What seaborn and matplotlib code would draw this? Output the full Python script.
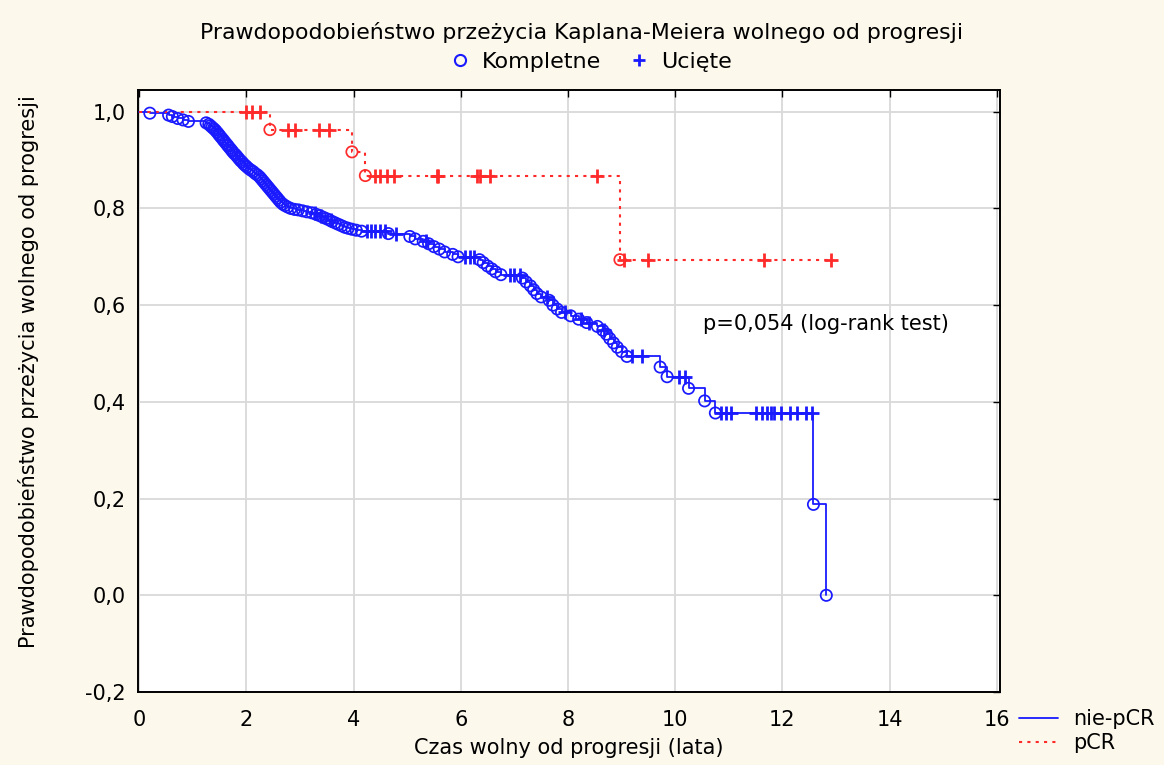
import numpy as np
import pandas as pd
import matplotlib
matplotlib.use("Agg")
import matplotlib.pyplot as plt
from matplotlib.lines import Line2D
import seaborn as sns

# --- nie-pCR group: (event time in years, survival after the event) ---
nonpcr_events = [
    (0.20, 0.997), (0.55, 0.993), (0.62, 0.990), (0.72, 0.986), (0.82, 0.983),
    (0.92, 0.980), (1.25, 0.977), (1.30, 0.974), (1.33, 0.971), (1.36, 0.968),
    (1.39, 0.965), (1.42, 0.962), (1.45, 0.958), (1.48, 0.954), (1.50, 0.951),
    (1.53, 0.947), (1.56, 0.943), (1.58, 0.940), (1.61, 0.936), (1.64, 0.932),
    (1.66, 0.929), (1.69, 0.925), (1.72, 0.921), (1.74, 0.918), (1.77, 0.914),
    (1.80, 0.911), (1.83, 0.907), (1.86, 0.903), (1.89, 0.899), (1.92, 0.896),
    (1.95, 0.892), (1.98, 0.889), (2.01, 0.886), (2.05, 0.882), (2.09, 0.879),
    (2.13, 0.876), (2.17, 0.872), (2.21, 0.869), (2.25, 0.865), (2.28, 0.861),
    (2.31, 0.857), (2.34, 0.853), (2.37, 0.849), (2.40, 0.845), (2.43, 0.841),
    (2.46, 0.837), (2.49, 0.833), (2.52, 0.829), (2.55, 0.825), (2.58, 0.821),
    (2.61, 0.817), (2.64, 0.813), (2.68, 0.809), (2.72, 0.806), (2.77, 0.803),
    (2.83, 0.800), (2.90, 0.798), (2.97, 0.797), (3.05, 0.795), (3.13, 0.793),
    (3.22, 0.791), (3.30, 0.788), (3.37, 0.785), (3.43, 0.782), (3.49, 0.779),
    (3.55, 0.776), (3.60, 0.773), (3.66, 0.770), (3.72, 0.767), (3.78, 0.764),
    (3.84, 0.761), (3.90, 0.759), (3.97, 0.757), (4.05, 0.755), (4.15, 0.753),
    (4.65, 0.748), (5.05, 0.742), (5.15, 0.737), (5.30, 0.732), (5.40, 0.727),
    (5.50, 0.721), (5.60, 0.716), (5.70, 0.710), (5.85, 0.705), (5.95, 0.700),
    (6.35, 0.694), (6.42, 0.688), (6.50, 0.681), (6.58, 0.675), (6.65, 0.669),
    (6.75, 0.663), (7.15, 0.656), (7.22, 0.648), (7.30, 0.640), (7.36, 0.632),
    (7.42, 0.624), (7.50, 0.617), (7.65, 0.610), (7.72, 0.600), (7.80, 0.592),
    (7.88, 0.585), (8.05, 0.578), (8.20, 0.571), (8.35, 0.564), (8.55, 0.556),
    (8.65, 0.548), (8.72, 0.540), (8.78, 0.531), (8.85, 0.522), (8.92, 0.513),
    (9.00, 0.504), (9.10, 0.494), (9.72, 0.472), (9.85, 0.452), (10.25, 0.428),
    (10.55, 0.402), (10.75, 0.377), (12.58, 0.188), (12.82, 0.000),
]
nonpcr_censor_t = [3.28, 3.40, 3.58, 4.25, 4.32, 4.40, 4.50, 4.58, 4.80, 5.35,
                   6.08, 6.17, 6.25, 6.92, 7.00, 7.10, 7.60, 7.95, 8.25, 8.40,
                   8.68, 9.20, 9.38, 10.08, 10.18, 10.85, 10.95, 11.05, 11.50,
                   11.62, 11.72, 11.78, 11.85, 11.98, 12.15, 12.28, 12.45, 12.55]

# --- pCR group ---
pcr_events = [(2.44, 0.963), (3.97, 0.917), (4.22, 0.868), (8.97, 0.694)]
pcr_censor_t = [2.00, 2.10, 2.25, 2.78, 2.90, 3.35, 3.55, 4.40, 4.50, 4.62,
                4.75, 5.55, 5.58, 6.30, 6.35, 6.55, 8.55, 9.05, 9.50, 11.65, 12.90]

p_value_text = "p=0,054 (log-rank test)"
x_ticks = [0, 2, 4, 6, 8, 10, 12, 14, 16]
y_ticks = [-0.2, 0.0, 0.2, 0.4, 0.6, 0.8, 1.0]
y_tick_labels = ["-0,2", "0,0", "0,2", "0,4", "0,6", "0,8", "1,0"]

BLUE = "#1a1aff"
RED = "#ff2a2a"
BG = "#fcf8ec"
FS = 15


def step_frame(events, censor_t):
    """Vertices of a post-step survival curve starting at S(0)=1."""
    et, es = zip(*events)
    t = [0.0] + list(et)
    s = [1.0] + list(es)
    end = max(max(et), max(censor_t))
    t.append(end)
    s.append(s[-1])
    return pd.DataFrame({"t": t, "s": s})


def level_at(events, times):
    et, es = zip(*events)
    idx = np.searchsorted(np.asarray(et), np.asarray(times), side="right")
    levels = np.concatenate([[1.0], np.asarray(es)])
    return levels[idx]


sns.set_theme(style="white")
plt.rcParams["font.family"] = ["DejaVu Sans"]
plt.rcParams["text.color"] = "black"
plt.rcParams["axes.labelcolor"] = "black"

fig = plt.figure(figsize=(11.64, 7.65), dpi=100, facecolor=BG)
ax = fig.add_axes([0.1186, 0.0954, 0.7405, 0.787])
ax.set_facecolor("white")

DOTTED = (0, (1.5, 2.5))
sns.lineplot(data=step_frame(nonpcr_events, nonpcr_censor_t), x="t", y="s",
             estimator=None, sort=False, drawstyle="steps-post",
             color=BLUE, linewidth=1.3, ax=ax, zorder=3)
sns.lineplot(data=step_frame(pcr_events, pcr_censor_t), x="t", y="s",
             estimator=None, sort=False, drawstyle="steps-post",
             color=RED, linewidth=1.5, linestyle=DOTTED, ax=ax, zorder=3)

# complete observations (events) as open circles,
# censored observations as crosses on the curve
for events, censor_t, col in [(nonpcr_events, nonpcr_censor_t, BLUE),
                              (pcr_events, pcr_censor_t, RED)]:
    et, es = zip(*events)
    sns.scatterplot(x=list(et), y=list(es), marker="o", s=66, color=col,
                    facecolor="none", edgecolor=col, linewidth=1.25,
                    ax=ax, zorder=4)
    sns.scatterplot(x=censor_t, y=level_at(events, censor_t), marker="+",
                    s=95, color=col, linewidth=2.0, ax=ax, zorder=4)

ax.set_xlim(-0.02, 16.06)
ax.set_ylim(-0.2, 1.045)
ax.set_xticks(x_ticks)
ax.set_xticklabels([str(v) for v in x_ticks])
ax.set_yticks(y_ticks)
ax.set_yticklabels(y_tick_labels)
ax.grid(True, color="#d9d9d9", linewidth=1.3)
ax.set_axisbelow(True)
for sp in ax.spines.values():
    sp.set_visible(True)
    sp.set_color("black")
    sp.set_linewidth(1.4)
ax.tick_params(axis="both", which="both", direction="in", length=5, width=1,
               top=True, right=True, labelsize=FS, colors="black")
ax.tick_params(axis="x", pad=13)
ax.tick_params(axis="y", pad=9)

ax.set_xlabel("Czas wolny od progresji (lata)", fontsize=FS, labelpad=6)
ax.set_ylabel("Prawdopodobieństwo przeżycia wolnego od progresji", fontsize=FS)
ax.yaxis.set_label_coords(-0.115, 0.532)

ax.text(10.52, 0.56, p_value_text, fontsize=FS, ha="left", va="center")

fig.text(0.5, 0.958, "Prawdopodobieństwo przeżycia Kaplana-Meiera wolnego od progresji",
         ha="center", va="center", fontsize=15.8)

# marker key above the plot
key_handles = [
    Line2D([], [], linestyle="none", marker="o", markersize=8,
           markerfacecolor="none", markeredgecolor=BLUE, markeredgewidth=1.5),
    Line2D([], [], linestyle="none", marker="+", markersize=9,
           markeredgecolor=BLUE, markeredgewidth=2),
]
fig.legend(key_handles, ["Kompletne", "Ucięte"], loc="center",
           bbox_to_anchor=(0.507, 0.919), ncol=2, frameon=False, fontsize=16,
           handlelength=1.0, handletextpad=0.5, columnspacing=1.2)

# group key at bottom right
group_handles = [
    Line2D([], [], color=BLUE, linewidth=1.3),
    Line2D([], [], color=RED, linewidth=1.5, linestyle=DOTTED),
]
fig.legend(group_handles, ["nie-pCR", "pCR"], loc="upper left",
           bbox_to_anchor=(0.875, 0.073), frameon=False, fontsize=FS,
           handlelength=1.9, handletextpad=0.7, labelspacing=0.2,
           borderaxespad=0, borderpad=0)

fig.savefig("out.png", dpi=100, facecolor=BG)
